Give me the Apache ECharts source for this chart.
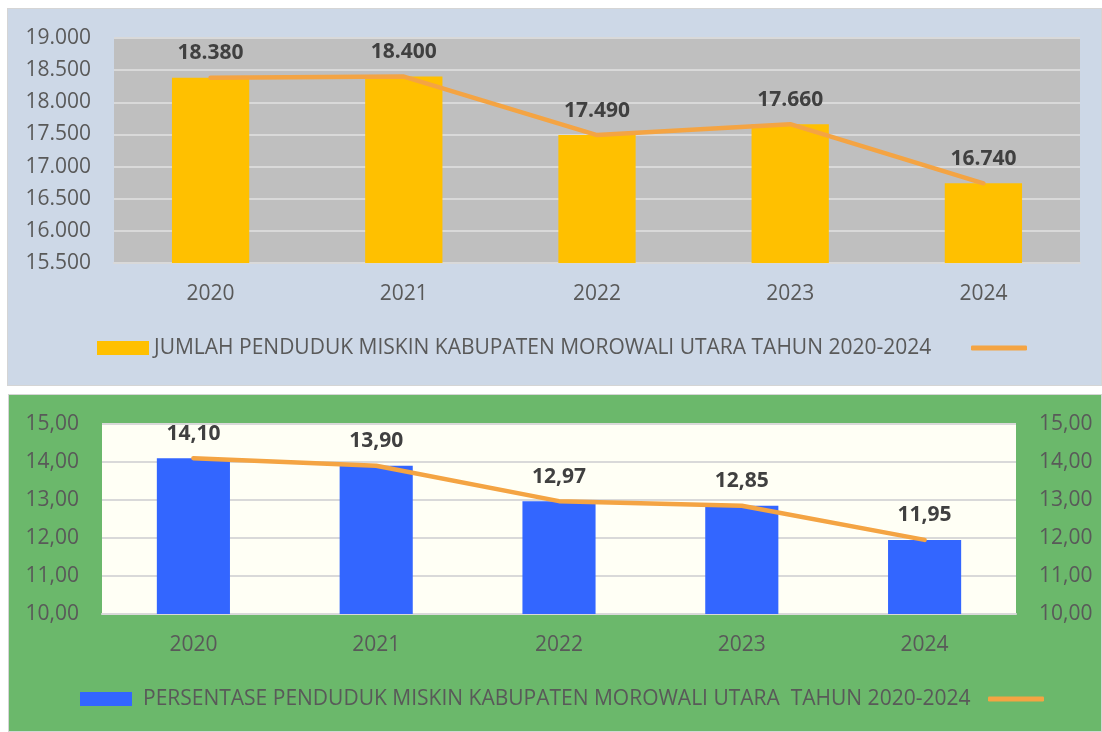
<!DOCTYPE html>
<html>
<head>
<meta charset="utf-8">
<script src="https://cdn.jsdelivr.net/npm/echarts@6/dist/echarts.min.js"></script>
<style>
html,body{margin:0;padding:0;background:#fff;width:1102px;height:732px;overflow:hidden;}
#p1{position:absolute;left:7px;top:8px;width:1093px;height:376px;background:#CDD8E7;border:1px solid #D5D5D5;}
#p2{position:absolute;left:8px;top:394px;width:1092px;height:336px;background:#6BB86B;border:1px solid #D5D5D5;}
</style>
</head>
<body>
<div id="p1"></div>
<div id="p2"></div>
<script>
const years = ['2020','2021','2022','2023','2024'];
const jumlah = [18380, 18400, 17490, 17660, 16740];
const persen = [14.10, 13.90, 12.97, 12.85, 11.95];
const legend1 = 'JUMLAH PENDUDUK MISKIN KABUPATEN MOROWALI UTARA TAHUN 2020-2024';
const legend2 = 'PERSENTASE PENDUDUK MISKIN KABUPATEN MOROWALI UTARA  TAHUN 2020-2024';

const FONT = '"Open Sans", "Noto Sans", sans-serif';
const FS = 21;
const fmtThousand = v => { const s = Math.round(v).toString(); return s.replace(/\B(?=(\d{3})+(?!\d))/g, '.'); };
const fmtComma = v => v.toFixed(2).replace('.', ',');
const lineColor = '#F4A443';
const txt = '#595959';

function baseLegend(name, left, top, gapPad) {
  return {
    data: [{name: name, icon: 'rect'}], left: left, top: top, padding: 0,
    itemWidth: 52, itemHeight: 14,
    textStyle: {fontFamily: FONT, fontSize: FS, color: txt, lineHeight: 22, padding: [0,0,0,gapPad]}
  };
}
function lineLegend(name, left, top) {
  return {
    data: [{name: name, icon: 'roundRect'}], left: left, top: top, padding: 0,
    itemWidth: 56, itemHeight: 5, formatter: () => '',
    textStyle: {fontSize: 1, padding: 0}
  };
}

const c1 = echarts.init(document.getElementById('p1'));
c1.setOption({
  animation: false,
  textStyle: {fontFamily: FONT},
  grid: {left: 106, top: 29, width: 966, height: 225, show: true, backgroundColor: '#BFBFBF', borderWidth: 0},
  legend: [baseLegend(legend1, 89, 328, 0), lineLegend('L1', 963, 336.5)],
  xAxis: {
    type: 'category', data: years,
    axisTick: {show: false},
    axisLine: {lineStyle: {color: '#D9D9D9', width: 2}},
    axisLabel: {fontFamily: FONT, fontSize: FS, color: txt, margin: 21}
  },
  yAxis: {
    type: 'value', min: 15500, max: 19000, interval: 500,
    axisLine: {show: false}, axisTick: {show: false},
    splitLine: {lineStyle: {color: '#D9D9D9', width: 2}},
    axisLabel: {fontFamily: FONT, fontSize: FS, color: txt, margin: 23, formatter: fmtThousand}
  },
  series: [
    {name: legend1, type: 'bar', data: jumlah, barWidth: '40%',
     itemStyle: {color: '#FFC000'},
     label: {show: true, position: 'top', distance: 14, fontFamily: FONT, fontSize: FS, fontWeight: 'bold', color: '#404040', formatter: p => fmtThousand(p.value)}},
    {name: 'L1', type: 'line', data: jumlah, symbol: 'none',
     lineStyle: {color: lineColor, width: 4.5, cap: 'round'}, itemStyle: {color: lineColor}}
  ]
});

const c2 = echarts.init(document.getElementById('p2'));
c2.setOption({
  animation: false,
  textStyle: {fontFamily: FONT},
  grid: {left: 93, top: 29, width: 914, height: 190, show: true, backgroundColor: '#FFFFF5', borderWidth: 0},
  legend: [baseLegend(legend2, 71, 293, 6), lineLegend('L2', 979, 301.5)],
  xAxis: {
    type: 'category', data: years,
    axisTick: {show: false},
    axisLine: {lineStyle: {color: '#D9D9D9', width: 2}},
    axisLabel: {fontFamily: FONT, fontSize: FS, color: txt, margin: 21}
  },
  yAxis: [
    {type: 'value', min: 10, max: 15, interval: 1,
     axisLine: {show: false}, axisTick: {show: false},
     splitLine: {lineStyle: {color: '#D9D9D9', width: 2}},
     axisLabel: {fontFamily: FONT, fontSize: FS, color: txt, margin: 23, formatter: fmtComma}},
    {type: 'value', min: 10, max: 15, interval: 1, position: 'right',
     axisLine: {show: false}, axisTick: {show: false}, splitLine: {show: false},
     axisLabel: {fontFamily: FONT, fontSize: FS, color: txt, margin: 23, formatter: fmtComma}}
  ],
  series: [
    {name: legend2, type: 'bar', data: persen, barWidth: '40%',
     itemStyle: {color: '#3366FF'},
     label: {show: true, position: 'top', distance: 14, fontFamily: FONT, fontSize: FS, fontWeight: 'bold', color: '#404040', formatter: p => fmtComma(p.value)}},
    {name: 'L2', type: 'line', data: persen, symbol: 'none', yAxisIndex: 1,
     lineStyle: {color: lineColor, width: 4.5, cap: 'round'}, itemStyle: {color: lineColor}}
  ]
});
</script>
</body>
</html>
